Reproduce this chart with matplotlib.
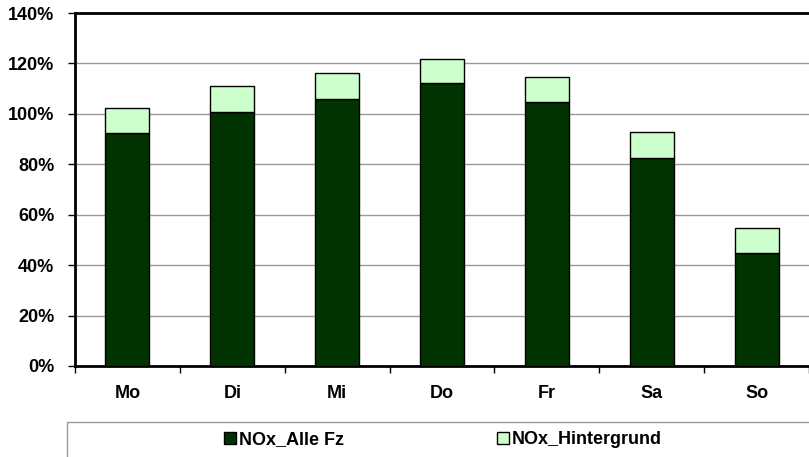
import numpy as np
import matplotlib.pyplot as plt
from matplotlib.patches import Rectangle
from matplotlib.ticker import FixedLocator, PercentFormatter

plt.rcParams["font.family"] = ["Liberation Sans", "DejaVu Sans"]
plt.rcParams["font.weight"] = "bold"

# ── data (percent of average weekday) ─────────────────────────────────────────
days = ["Mo", "Di", "Mi", "Do", "Fr", "Sa", "So"]
nox_alle_fz = [92.3, 100.8, 106.0, 112.3, 104.8, 82.5, 45.0]
nox_hintergrund = [10.2, 10.4, 10.3, 9.5, 10.0, 10.5, 9.6]

DARK = "#003300"
LIGHT = "#ccffcc"
FS = 13

fig = plt.figure(figsize=(8.09, 4.57), dpi=100)
ax = fig.add_axes([75 / 809, 1 - 366 / 457, 734 / 809, 353 / 457])

x = np.arange(len(days))
ax.bar(x, nox_alle_fz, width=0.42, color=DARK, edgecolor="black", lw=1,
       label="NOx_Alle Fz", zorder=3)
ax.bar(x, nox_hintergrund, width=0.42, bottom=nox_alle_fz, color=LIGHT,
       edgecolor="black", lw=1, label="NOx_Hintergrund", zorder=3)

ax.set_ylim(0, 140)
ax.set_xlim(-0.5, len(days) - 0.5)
ax.set_yticks(np.arange(0, 141, 20))
ax.yaxis.set_major_formatter(PercentFormatter(decimals=0))
ax.grid(axis="y", color="#999999", lw=1, zorder=0)

# category labels centred, tick marks between categories
ax.xaxis.set_major_locator(FixedLocator(np.arange(-0.5, len(days), 1.0)))
ax.set_xticklabels([])
ax.set_xticks(x, minor=True)
ax.set_xticklabels(days, minor=True)
ax.tick_params(axis="x", which="major", direction="out", length=5, width=1)
ax.tick_params(axis="x", which="minor", length=0, pad=14, labelsize=FS)
ax.tick_params(axis="y", direction="out", length=5, width=1, labelsize=FS, pad=10)

for side in ("left", "bottom", "top"):
    ax.spines[side].set_linewidth(2)
    ax.spines[side].set_color("black")
ax.spines["right"].set_visible(False)

# legend box at the bottom
fig.patches.append(Rectangle((67 / 809, -0.01), 0.93, 0.01 + 35 / 457,
                             transform=fig.transFigure, fill=False,
                             edgecolor="#999999", lw=1))
fig.legend(loc="center", bbox_to_anchor=(443 / 809, 1 - 440 / 457), ncol=2,
           frameon=False, fontsize=FS, handlelength=0.67, handleheight=0.67,
           handletextpad=0.15, columnspacing=8.5, borderpad=0)

fig.savefig("out.png", dpi=100)
